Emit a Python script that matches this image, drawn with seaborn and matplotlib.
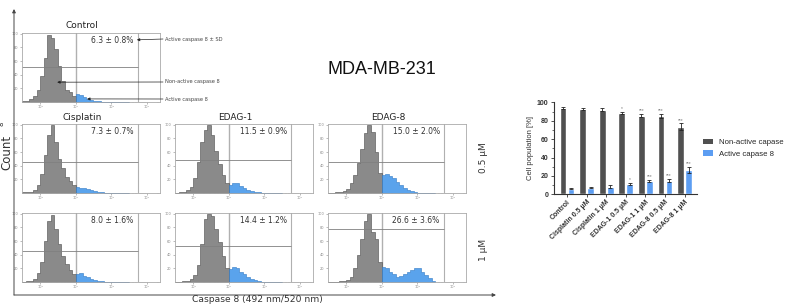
import numpy as np
import pandas as pd
import matplotlib
matplotlib.use('Agg')
import matplotlib.pyplot as plt
from matplotlib.patches import Patch
import seaborn as sns

sns.set_theme(style='white')
plt.rcParams['font.family'] = ['DejaVu Sans']

# ---------------- data ----------------
# flow-cytometry histogram bins (log10 fluorescence, decades)
bin_edges = np.round(np.arange(0.5, 3.5001, 0.1), 2)
gate_x = 2.0          # active / non-active gate
right_marker = 3.74   # right marker line

control_counts = [0.01, 0.02, 0.04, 0.09, 0.18, 0.38, 0.65, 0.98, 0.93, 0.78, 0.53, 0.31, 0.18, 0.14, 0.09,
                  0.11, 0.10, 0.07, 0.05, 0.035, 0.02, 0.01, 0, 0, 0, 0, 0, 0, 0, 0]
cis05_counts = [0.01, 0.01, 0.02, 0.05, 0.12, 0.28, 0.56, 0.85, 0.99, 0.75, 0.50, 0.36, 0.24, 0.17, 0.11,
                0.09, 0.08, 0.07, 0.06, 0.04, 0.025, 0.015, 0.008, 0.003, 0, 0, 0, 0, 0, 0]
edag1_05_counts = [0.005, 0.01, 0.02, 0.04, 0.09, 0.22, 0.45, 0.75, 0.92, 1.0, 0.85, 0.62, 0.42, 0.27, 0.15,
                   0.12, 0.15, 0.14, 0.10, 0.08, 0.05, 0.035, 0.02, 0.01, 0.004, 0, 0, 0, 0, 0]
edag8_05_counts = [0.003, 0.005, 0.01, 0.02, 0.03, 0.06, 0.15, 0.27, 0.44, 0.65, 0.88, 1.0, 0.90, 0.60, 0.30,
                   0.26, 0.28, 0.25, 0.22, 0.16, 0.11, 0.07, 0.05, 0.025, 0.01, 0.005, 0, 0, 0, 0]
cis1_counts = [0.005, 0.01, 0.02, 0.05, 0.13, 0.30, 0.60, 0.90, 0.98, 0.78, 0.55, 0.38, 0.26, 0.17, 0.11,
               0.12, 0.13, 0.09, 0.07, 0.05, 0.03, 0.02, 0.01, 0.005, 0, 0, 0, 0, 0, 0]
edag1_1_counts = [0.003, 0.006, 0.01, 0.02, 0.05, 0.10, 0.25, 0.55, 0.92, 0.99, 0.96, 0.78, 0.58, 0.38, 0.20,
                  0.19, 0.22, 0.21, 0.15, 0.11, 0.07, 0.05, 0.03, 0.015, 0.005, 0, 0, 0, 0, 0]
edag8_1_counts = [0.002, 0.004, 0.006, 0.01, 0.015, 0.03, 0.08, 0.20, 0.40, 0.63, 0.90, 1.0, 0.73, 0.63, 0.30,
                  0.22, 0.20, 0.15, 0.11, 0.08, 0.09, 0.11, 0.14, 0.18, 0.21, 0.20, 0.15, 0.10, 0.06, 0.02]

panel_titles = ['Control', 'Cisplatin', 'EDAG-1', 'EDAG-8', '', '', '']
panel_pct = ['6.3 ± 0.8%', '7.3 ± 0.7%', '11.5 ± 0.9%', '15.0 ± 2.0%',
             '8.0 ± 1.6%', '14.4 ± 1.2%', '26.6 ± 3.6%']
panel_hline = [0.51, 0.46, 0.48, 0.46, 0.46, 0.52, 0.77]
panel_counts = [control_counts, cis05_counts, edag1_05_counts, edag8_05_counts,
                cis1_counts, edag1_1_counts, edag8_1_counts]

# bar chart
groups = ['Control', 'Cisplatin 0.5 µM', 'Cisplatin 1 µM', 'EDAG-1 0.5 µM',
          'EDAG-1 1 µM', 'EDAG-8 0.5 µM', 'EDAG-8 1 µM']
states = ['Non-active capase 8', 'Active capase 8']
nonactive_vals = [93.7, 92.7, 92.0, 88.5, 85.6, 85.0, 73.4]
nonactive_sd = [0.8, 0.7, 1.6, 1.2, 1.2, 2.3, 3.6]
active_vals = [6.3, 7.3, 8.0, 11.5, 14.4, 15.0, 26.6]
active_sd = [0.8, 0.7, 1.6, 0.9, 1.2, 2.0, 3.6]
nonactive_sig = ['', '', '', '*', '***', '***', '***']
active_sig = ['', '', '', '*', '***', '***', '***']

# ---------------- figure ----------------
W, H = 786, 308
fig = plt.figure(figsize=(W / 100, H / 100), dpi=100)

ov = fig.add_axes([0, 0, 1, 1], zorder=10)
ov.set_xlim(0, W)
ov.set_ylim(H, 0)
ov.axis('off')
ov.patch.set_alpha(0)

GRAY = '#8a8a8a'
GRAY_EDGE = '#4a4a4a'
BLUE = '#5aa3ec'
BLUE_EDGE = '#2f78c4'

lefts = [22, 22, 175, 328, 22, 175, 328]
tops = [33, 124, 124, 124, 213, 213, 213]
PW, PH = 138, 69
centers = (bin_edges[:-1] + bin_edges[1:]) / 2
BW = 0.1

hist_axes = []
for i in range(7):
    ax = fig.add_axes([lefts[i] / W, (H - tops[i] - PH) / H, PW / W, PH / H])
    hist_axes.append(ax)
    cnt = np.array(panel_counts[i])
    m_g = centers < gate_x
    m_b = centers > gate_x
    sns.histplot(x=list(centers[m_g]), weights=list(cnt[m_g]), binwidth=BW,
                 binrange=(bin_edges[0], gate_x),
                 element='step', fill=True, color=GRAY, edgecolor=GRAY_EDGE, alpha=1,
                 linewidth=0.4, ax=ax)
    sns.histplot(x=list(centers[m_b]), weights=list(cnt[m_b]), binwidth=BW,
                 binrange=(gate_x, bin_edges[-1]),
                 element='step', fill=True, color=BLUE, edgecolor=BLUE_EDGE, alpha=1,
                 linewidth=0.4, ax=ax)
    ax.set_xlim(0.49, 4.37)
    ax.set_ylim(0, 1.01)
    ax.set_xlabel('')
    ax.set_ylabel('')
    ax.axvline(gate_x, color='#b0b0b0', lw=1.0, zorder=0.5)
    ax.axvline(right_marker, color='#b0b0b0', lw=0.8, zorder=0.5)
    ax.hlines(panel_hline[i], 0.49, right_marker, color='#808080', lw=0.6)
    for s in ax.spines.values():
        s.set_color('#aaaaaa')
        s.set_linewidth(0.6)
    ax.set_xticks([1, 2, 3, 4])
    ax.set_xticklabels(['10¹', '10²', '10³', '10⁴'])
    minors = [d + np.log10(k) for d in range(0, 5) for k in range(2, 10)]
    ax.set_xticks([v for v in minors if 0.49 < v < 4.37], minor=True)
    ax.set_yticks([0.2, 0.4, 0.6, 0.8, 1.0])
    ax.set_yticklabels(['20', '40', '60', '80', '100'])
    ax.tick_params(axis='both', which='major', length=1.5, width=0.4, color='#888',
                   labelsize=2.5, labelcolor='#888', pad=1, bottom=True, left=True)
    ax.tick_params(axis='x', which='minor', length=0.8, width=0.3, color='#999', bottom=True)
    ax.text(3.63, 0.9, panel_pct[i], ha='right', va='center', fontsize=5.5, color='#333')
    if panel_titles[i]:
        ov.text(lefts[i] + 60, tops[i] - 7, panel_titles[i], ha='center', va='center',
                fontsize=6.5, color='#222')

# annotations on control panel
axc = hist_axes[0]
ann = [('Active caspase 8 ± SD', 39, (3.72, 0.91)),
       ('Non-active caspase 8', 82, (1.48, 0.29)),
       ('Active caspase 8', 99, (2.32, 0.045))]
for txt, yy, tgt in ann:
    ov.text(165, yy, txt, ha='left', va='center', fontsize=3.7, color='#444')
    axc.annotate('', xy=tgt, xycoords='data', xytext=(163, yy), textcoords=ov.transData,
                 annotation_clip=False,
                 arrowprops=dict(arrowstyle='-|>', lw=0.5, color='#222', mutation_scale=4,
                                 shrinkA=0, shrinkB=0))

# big axes arrows
ov.annotate('', xy=(14, 9), xytext=(14, 295),
            arrowprops=dict(arrowstyle='-|>', lw=0.7, color='#444', mutation_scale=5,
                            shrinkA=0, shrinkB=0))
ov.annotate('', xy=(496, 295), xytext=(14, 295),
            arrowprops=dict(arrowstyle='-|>', lw=0.7, color='#444', mutation_scale=5,
                            shrinkA=0, shrinkB=0))
ov.text(7, 152, 'Count', rotation=90, ha='center', va='center', fontsize=8.5, color='#333')
ov.text(2, 124, '8', rotation=90, ha='center', va='center', fontsize=5, color='#333')
ov.text(257, 299, 'Caspase 8 (492 nm/520 nm)', ha='center', va='center', fontsize=6.6, color='#333')
ov.text(484, 158, '0.5 µM', rotation=90, ha='center', va='center', fontsize=6.5, color='#333')
ov.text(484, 250, '1 µM', rotation=90, ha='center', va='center', fontsize=6.5, color='#333')
ov.text(382, 70, 'MDA-MB-231', ha='center', va='center', fontsize=13, color='#111',
        family='Liberation Sans')

# ---------------- bar chart ----------------
DARK = '#505050'
BBLUE = '#5c9df2'
df = pd.DataFrame({
    'group': groups * 2,
    'state': [states[0]] * len(groups) + [states[1]] * len(groups),
    'value': nonactive_vals + active_vals,
})
axb = fig.add_axes([554 / W, (H - 194.3) / H, 143 / W, 92 / H])
sns.barplot(data=df, x='group', y='value', hue='state', order=groups, hue_order=states,
            palette=[DARK, BBLUE], width=0.82, gap=0.15, errorbar=None, saturation=1,
            legend=False, ax=axb)
for cont, sds, sigs in zip(axb.containers, [nonactive_sd, active_sd], [nonactive_sig, active_sig]):
    xs = [p.get_x() + p.get_width() / 2 for p in cont.patches]
    ys = [p.get_height() for p in cont.patches]
    axb.errorbar(xs, ys, yerr=sds, fmt='none', ecolor='#222', elinewidth=0.6,
                 capsize=1.4, capthick=0.6)
    for x, y, e, s in zip(xs, ys, sds, sigs):
        if s:
            axb.text(x, y + e + 1.0, s, ha='center', va='bottom', fontsize=3.5, color='#777',
                     family='Liberation Sans')
axb.set_xlim(-0.66, 6.63)
axb.set_ylim(0, 100)
axb.set_yticks([0, 20, 40, 60, 80, 100])
axb.set_yticks([10, 30, 50, 70, 90], minor=True)
axb.set_xlabel('')
axb.set_ylabel('Cell population [%]', fontsize=5.5, family='Liberation Sans', color='#333',
               labelpad=2)
for s in ['top', 'right']:
    axb.spines[s].set_visible(False)
for s in ['left', 'bottom']:
    axb.spines[s].set_color('#333')
    axb.spines[s].set_linewidth(0.8)
axb.tick_params(axis='y', which='major', length=2.5, width=0.6, color='#333', labelsize=5,
                pad=1.5, left=True)
axb.tick_params(axis='y', which='minor', length=1.5, width=0.5, color='#333', left=True)
axb.tick_params(axis='x', length=2, width=0.6, color='#333', pad=1, bottom=True)
for lab in axb.get_yticklabels():
    lab.set_family('Liberation Sans')
    lab.set_fontweight('bold')
    lab.set_color('#333')
axb.set_xticks(range(len(groups)))
axb.set_xticklabels(groups, rotation=45, ha='right', rotation_mode='anchor',
                    fontsize=5, family='Liberation Sans', fontweight='bold', color='#333')

handles = [Patch(facecolor=DARK, edgecolor='none'), Patch(facecolor=BBLUE, edgecolor='none')]
axb.legend(handles, states, loc='upper left', bbox_to_anchor=(703 / W, 1 - 138.5 / H),
           bbox_transform=fig.transFigure, frameon=False,
           prop={'family': 'Liberation Sans', 'size': 5.6}, handlelength=1.3,
           handleheight=0.8, labelspacing=0.55, handletextpad=0.75, borderaxespad=0,
           borderpad=0)

fig.savefig('out.png', dpi=100)
